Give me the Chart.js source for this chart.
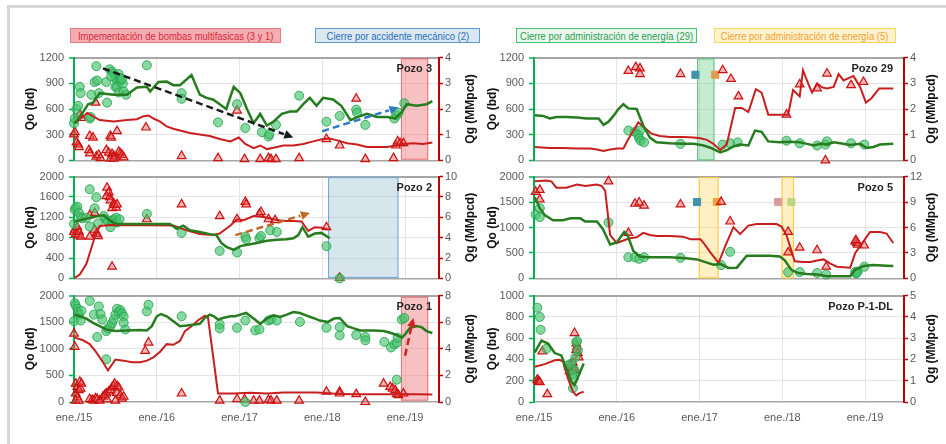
<!DOCTYPE html>
<html>
<head>
<meta charset="utf-8">
<script src="https://cdn.jsdelivr.net/npm/chart.js@4.4.1/dist/chart.umd.min.js"></script>
<style>
  html, body { margin: 0; padding: 0; background: #fff; }
  body { width: 946px; height: 444px; position: relative; overflow: hidden; font-family: "Liberation Sans", Arial, sans-serif; }
  .frame { position: absolute; left: 7px; top: 5px; right: 0; bottom: 0; border-left: 3px solid #d6d6d6; border-top: 3px solid #d6d6d6; }
  .leg { position: absolute; top: 28px; height: 15px; box-sizing: border-box; border: 1px solid;
         display: flex; align-items: center; justify-content: center; white-space: nowrap;
         font-family: "Liberation Sans", Arial, sans-serif; font-size: 11px; }
  .leg span { display: inline-block; transform: scaleX(0.86); transform-origin: center; }
</style>
</head>
<body>
<div class="frame"></div>
<div class="leg" style="left:70px;width:211px;background:#f4aeb2;border-color:#e47c84;color:#d8283a"><span>Impementación de bombas multifasicas (3 y 1)</span></div>
<div class="leg" style="left:315px;width:165px;background:#dbe7f1;border-color:#5b9bd5;color:#2a6fb4"><span>Cierre por accidente mecánico (2)</span></div>
<div class="leg" style="left:516px;width:181px;background:#eaf7ee;border-color:#4cc070;color:#2e9e52"><span>Cierre por administración de energía (29)</span></div>
<div class="leg" style="left:714px;width:182px;background:#fff3cf;border-color:#ffd666;color:#f0a030"><span>Cierre por administración de energía (5)</span></div>

<script>
// year ticks shown on the bottom row
const years = [2015, 2016, 2017, 2018, 2019];

// ---- Pozo 3 ----
const p3QoLine = [[2015.01,433],[2015.11,563],[2015.17,656],[2015.23,674],[2015.31,785],[2015.48,767],[2015.64,767],[2015.76,850],[2015.88,859],[2015.92,804],[2016.02,915],[2016.12,920],[2016.20,878],[2016.28,878],[2016.42,996],[2016.52,767],[2016.60,730],[2016.68,711],[2016.76,656],[2016.84,600],[2016.93,859],[2017.01,785],[2017.09,600],[2017.17,433],[2017.25,544],[2017.33,407],[2017.41,452],[2017.51,544],[2017.61,570],[2017.69,570],[2017.77,656],[2017.85,730],[2017.93,637],[2018.01,730],[2018.13,711],[2018.23,637],[2018.34,470],[2018.46,519],[2018.54,544],[2018.66,507],[2018.78,507],[2018.88,489],[2018.96,563],[2019.02,656],[2019.14,637],[2019.26,656],[2019.33,693]];
const p3QgLine = [[2015.01,1.44],[2015.16,1.85],[2015.31,1.57],[2015.48,1.51],[2015.64,1.57],[2015.76,1.60],[2015.84,1.72],[2015.90,1.75],[2015.96,1.63],[2016.04,1.51],[2016.12,1.32],[2016.20,1.23],[2016.28,1.16],[2016.40,1.07],[2016.52,1.01],[2016.64,0.95],[2016.76,0.83],[2016.89,0.74],[2016.99,0.89],[2017.07,0.64],[2017.17,0.48],[2017.25,0.58],[2017.33,0.44],[2017.41,0.49],[2017.53,0.58],[2017.65,0.58],[2017.77,0.64],[2017.89,0.74],[2018.01,0.83],[2018.09,0.85],[2018.17,0.79],[2018.30,0.67],[2018.42,0.62],[2018.54,0.52],[2018.66,0.52],[2018.78,0.52],[2018.90,0.58],[2018.98,0.64],[2019.10,0.67],[2019.22,0.64],[2019.33,0.70]];
const p3QoPts = [[2015.00,433],[2015.01,489],[2015.03,600],[2015.05,637],[2015.07,859],[2015.08,785],[2015.19,489],[2015.20,507],[2015.21,767],[2015.25,915],[2015.28,933],[2015.27,1100],[2015.30,785],[2015.40,674],[2015.39,915],[2015.43,1063],[2015.46,1037],[2015.48,1007],[2015.50,963],[2015.52,933],[2015.54,1007],[2015.50,859],[2015.52,859],[2015.54,793],[2015.56,926],[2015.59,896],[2015.60,804],[2015.63,767],[2015.45,980],[2015.56,960],[2015.58,950],[2015.88,1111],[2016.30,785],[2016.30,719],[2016.74,444],[2016.97,656],[2017.07,378],[2017.27,330],[2017.35,278],[2017.36,304],[2017.44,415],[2017.72,756],[2018.05,452],[2018.21,519],[2018.41,593],[2018.42,556],[2018.52,415],[2018.87,489],[2018.90,526],[2018.92,556],[2018.99,667]];
const p3QgPts = [[2015.00,1.01],[2015.01,1.10],[2015.03,0.70],[2015.05,0.62],[2015.06,0.52],[2015.07,1.78],[2015.09,1.65],[2015.26,2.25],[2015.18,0.40],[2015.19,0.27],[2015.19,0.95],[2015.23,0.89],[2015.27,0.15],[2015.30,0.21],[2015.32,0.09],[2015.39,0.40],[2015.42,0.30],[2015.44,0.95],[2015.45,0.89],[2015.46,0.25],[2015.48,0.17],[2015.51,0.12],[2015.52,1.14],[2015.54,0.33],[2015.56,0.27],[2015.58,0.21],[2015.60,0.12],[2015.44,0.07],[2015.48,0.07],[2015.87,1.28],[2016.30,0.17],[2016.74,0.09],[2016.97,1.94],[2017.06,0.05],[2017.25,0.05],[2017.35,0.09],[2017.38,0.05],[2017.44,0.05],[2017.72,0.09],[2018.05,0.83],[2018.21,0.58],[2018.41,2.40],[2018.52,0.05],[2018.86,0.09],[2018.89,0.58],[2018.91,0.74],[2018.94,0.67],[2018.98,0.67]];
const p3Boxes = [{from: 2018.95, to: 2019.28, top: 1192, bottom: 8, kind: 'red'}];
const p3Arrows = [{from: [2015.35, 1074], to: [2017.65, 267], color: '#1a1a1a'}, {from: [2018.00, 341], to: [2018.92, 619], color: '#2e7cc4'}];

// ---- Pozo 2 ----
const p2QoLine = [[2015.00,1110],[2015.11,1160],[2015.20,1190],[2015.30,1230],[2015.36,1240],[2015.44,1130],[2015.50,1075],[2015.56,1068],[2016.16,1068],[2016.24,975],[2016.32,1037],[2016.40,944],[2016.52,913],[2016.64,870],[2016.72,851],[2016.78,696],[2016.84,621],[2016.93,559],[2017.01,634],[2017.11,665],[2017.21,696],[2017.33,739],[2017.45,758],[2017.57,770],[2017.65,789],[2017.71,851],[2017.76,1006],[2017.83,820],[2017.91,882],[2017.99,894],[2018.09,789]];
const p2QgLine = [[2015.00,0.00],[2015.07,0.37],[2015.15,1.43],[2015.21,2.99],[2015.25,4.04],[2015.31,5.15],[2015.44,5.25],[2016.20,5.19],[2016.36,4.72],[2016.52,4.35],[2016.68,4.26],[2016.76,4.41],[2016.89,5.19],[2016.97,5.81],[2017.05,5.72],[2017.17,6.12],[2017.29,6.03],[2017.41,5.81],[2017.53,5.65],[2017.65,5.65],[2017.75,5.59],[2017.83,4.66],[2017.91,5.03],[2017.99,4.97],[2018.07,4.81]];
const p2QoPts = [[2015.00,1068],[2015.01,1348],[2015.02,1391],[2015.04,1410],[2015.06,1286],[2015.08,1205],[2015.10,1180],[2015.15,1192],[2015.19,1019],[2015.19,1751],[2015.25,1379],[2015.27,1596],[2015.29,1081],[2015.36,1224],[2015.39,1161],[2015.41,1118],[2015.44,1006],[2015.46,1130],[2015.48,1161],[2015.51,1192],[2015.52,1099],[2015.55,1161],[2015.88,1267],[2016.30,894],[2016.76,540],[2016.97,509],[2017.07,820],[2017.08,770],[2017.24,789],[2017.26,832],[2017.37,944],[2017.45,913],[2018.05,634],[2018.21,0]];
const p2QgPts = [[2015.00,4.57],[2015.01,4.78],[2015.02,4.35],[2015.04,5.03],[2015.05,4.22],[2015.06,4.57],[2015.08,4.10],[2015.19,4.10],[2015.19,6.21],[2015.25,6.43],[2015.27,4.41],[2015.28,4.35],[2015.29,4.16],[2015.25,4.78],[2015.40,8.91],[2015.42,8.45],[2015.39,8.08],[2015.43,7.98],[2015.44,7.67],[2015.46,6.90],[2015.48,7.36],[2015.49,7.21],[2015.51,6.96],[2015.52,7.27],[2015.46,1.15],[2015.88,5.81],[2016.30,7.27],[2016.76,6.12],[2016.97,5.81],[2017.07,7.52],[2017.08,7.27],[2017.24,6.34],[2017.26,6.52],[2017.35,5.81],[2017.43,5.72],[2018.05,5.03],[2018.21,0.06]];
const p2Boxes = [{from: 2018.07, to: 2018.92, top: 1990, bottom: 10, kind: 'blue'}];
const p2Arrows = [{from: [2016.95, 851], to: [2017.85, 1286], color: '#c0682a'}];

// ---- Pozo 1 ----
const p1QoLine = [[2015.01,1642],[2015.07,1611],[2015.15,1568],[2015.23,1488],[2015.31,1426],[2015.39,1364],[2015.50,1333],[2015.64,1346],[2015.80,1352],[2015.88,1346],[2015.94,1426],[2016.00,1611],[2016.05,1654],[2016.12,1611],[2016.20,1519],[2016.28,1426],[2016.36,1438],[2016.46,1457],[2016.52,1469],[2016.58,1580],[2016.64,1642],[2016.69,1611],[2016.74,1549],[2016.80,1580],[2016.89,1611],[2016.95,1611],[2017.01,1642],[2017.08,1673],[2017.17,1568],[2017.25,1469],[2017.33,1568],[2017.41,1630],[2017.49,1599],[2017.57,1642],[2017.65,1691],[2017.73,1673],[2017.81,1623],[2017.89,1580],[2017.97,1531],[2018.07,1506],[2018.14,1568],[2018.21,1580],[2018.30,1426],[2018.38,1383],[2018.46,1346],[2018.62,1346],[2018.74,1333],[2018.82,1302],[2018.90,1259],[2018.96,1210],[2019.00,1272],[2019.06,1395],[2019.14,1426],[2019.20,1407],[2019.26,1333],[2019.33,1296]];
const p1QgLine = [[2015.01,4.84],[2015.11,4.64],[2015.19,4.35],[2015.27,3.73],[2015.35,2.99],[2015.41,2.37],[2015.50,3.19],[2015.60,3.11],[2015.70,2.99],[2015.80,2.99],[2015.88,3.11],[2015.96,3.36],[2016.04,3.78],[2016.12,4.35],[2016.20,4.30],[2016.28,4.59],[2016.34,5.33],[2016.42,5.70],[2016.50,6.15],[2016.58,6.49],[2016.62,6.32],[2016.74,0.64],[2016.93,0.64],[2017.13,0.69],[2017.33,0.64],[2017.53,0.72],[2017.73,0.72],[2017.93,0.72],[2018.13,0.64],[2018.34,0.59],[2018.74,0.59],[2019.14,0.59],[2019.33,0.57]];
const p1QoPts = [[2015.00,1519],[2015.01,1858],[2015.02,1815],[2015.04,1753],[2015.05,1691],[2015.06,1642],[2015.09,1716],[2015.08,1531],[2015.19,1901],[2015.24,1642],[2015.28,1222],[2015.30,1796],[2015.32,1654],[2015.34,1549],[2015.39,802],[2015.39,1333],[2015.41,1383],[2015.44,1426],[2015.46,1482],[2015.48,1549],[2015.50,1642],[2015.52,1753],[2015.54,1691],[2015.56,1728],[2015.58,1667],[2015.60,1605],[2015.60,1488],[2015.62,1364],[2015.88,1704],[2015.90,1827],[2016.30,1611],[2016.76,1457],[2016.76,1383],[2016.97,1395],[2017.07,1531],[2017.19,1346],[2017.24,1364],[2017.35,1531],[2017.38,1549],[2017.45,1531],[2017.73,1506],[2018.05,1395],[2018.21,1407],[2018.21,1253],[2018.41,1259],[2018.52,1222],[2018.52,1161],[2018.75,1130],[2018.83,1025],[2018.87,1086],[2018.90,1111],[2018.91,1210],[2018.90,420],[2018.96,1549],[2018.99,1580],[2017.07,0]];
const p1QgPts = [[2015.00,5.14],[2015.01,4.15],[2015.02,1.38],[2015.02,0.64],[2015.04,0.35],[2015.04,1.14],[2015.06,0.89],[2015.07,1.51],[2015.08,1.01],[2015.09,1.38],[2015.02,0.10],[2015.06,0.10],[2015.19,0.22],[2015.22,0.15],[2015.24,0.10],[2015.26,0.27],[2015.28,0.22],[2015.31,0.10],[2015.35,0.40],[2015.37,0.52],[2015.39,0.64],[2015.40,0.20],[2015.42,0.77],[2015.44,0.89],[2015.46,1.09],[2015.48,1.19],[2015.49,1.38],[2015.52,1.19],[2015.54,1.09],[2015.52,0.69],[2015.56,0.52],[2015.58,0.25],[2015.60,0.40],[2015.50,0.10],[2015.86,3.85],[2015.90,4.47],[2016.30,0.64],[2016.76,0.10],[2016.97,0.22],[2017.06,0.20],[2017.17,0.10],[2017.24,0.10],[2017.35,0.15],[2017.38,0.10],[2017.45,0.10],[2017.72,0.10],[2018.05,0.77],[2018.21,0.77],[2018.21,0.64],[2018.41,0.59],[2018.52,0.00],[2018.74,1.38],[2018.82,1.14],[2018.85,1.01],[2018.88,0.89],[2018.90,0.59],[2018.92,0.52],[2018.98,0.64]];
const p1Boxes = [{from: 2018.95, to: 2019.28, top: 1980, bottom: 25, kind: 'red'}];
const p1Arrows = [{from: [2019.00, 870], to: [2019.10, 1580], color: '#d42020'}];

// ---- Pozo 29 ----
const p29QoLine = [[2015.01,526],[2015.11,519],[2015.19,489],[2015.27,507],[2015.39,507],[2015.52,500],[2015.64,489],[2015.78,489],[2015.84,415],[2015.90,452],[2015.96,519],[2016.02,600],[2016.08,656],[2016.14,607],[2016.24,600],[2016.32,407],[2016.40,267],[2016.48,211],[2016.64,200],[2016.80,193],[2016.93,193],[2017.05,174],[2017.13,148],[2017.25,93],[2017.33,119],[2017.41,163],[2017.49,185],[2017.59,174],[2017.67,348],[2017.75,333],[2017.83,222],[2017.97,211],[2018.09,219],[2018.21,211],[2018.30,193],[2018.38,174],[2018.46,193],[2018.54,185],[2018.62,211],[2018.70,200],[2018.82,181],[2018.94,193],[2019.02,144],[2019.10,156],[2019.18,185],[2019.34,193]];
const p29QgLine = [[2015.01,0.52],[2015.19,0.48],[2015.35,0.48],[2015.52,0.46],[2015.68,0.46],[2015.76,0.42],[2015.84,0.37],[2015.92,0.42],[2016.00,0.46],[2016.08,0.46],[2016.14,0.83],[2016.20,1.14],[2016.26,1.48],[2016.34,1.26],[2016.42,1.04],[2016.52,0.95],[2016.64,0.91],[2016.80,0.91],[2016.93,0.89],[2017.01,0.86],[2017.09,0.80],[2017.17,0.64],[2017.25,0.40],[2017.33,0.64],[2017.43,2.04],[2017.51,2.04],[2017.59,1.88],[2017.68,2.77],[2017.75,2.64],[2017.83,1.78],[2017.97,1.78],[2018.07,1.78],[2018.13,2.74],[2018.21,2.49],[2018.25,3.51],[2018.32,2.93],[2018.36,2.64],[2018.42,2.99],[2018.48,2.84],[2018.54,2.80],[2018.62,2.86],[2018.68,3.36],[2018.74,3.11],[2018.82,3.23],[2018.86,3.28],[2018.94,2.86],[2019.01,2.25],[2019.08,2.43],[2019.17,2.80],[2019.34,2.80]];
const p29QoPts = [[2016.14,348],[2016.22,333],[2016.28,348],[2016.26,296],[2016.27,259],[2016.29,230],[2016.33,211],[2016.77,193],[2017.28,185],[2017.37,200],[2017.46,211],[2018.05,230],[2018.21,200],[2018.42,174],[2018.52,185],[2018.54,222],[2018.83,200],[2018.99,185]];
const p29QgPts = [[2016.14,3.48],[2016.23,3.63],[2016.28,3.58],[2016.28,3.36],[2016.77,3.36],[2017.28,3.51],[2017.38,3.17],[2017.47,2.49],[2018.05,1.78],[2018.21,2.96],[2018.42,2.80],[2018.52,0.00],[2018.54,3.38],[2018.83,2.93],[2018.98,3.05]];
const p29Marks = [[2016.95,1000],[2017.19,1000]];
const p29MarkColors = ['#3f93ad', '#e39a4e'];
const p29Boxes = [{from: 2016.97, to: 2017.18, top: 1190, bottom: 0, kind: 'green'}];

// ---- Pozo 5 ----
const p5QoLine = [[2015.01,1596],[2015.07,1379],[2015.13,1242],[2015.23,1143],[2015.35,1143],[2015.44,1180],[2015.56,1180],[2015.62,1118],[2015.76,1118],[2015.83,975],[2015.92,665],[2016.00,708],[2016.09,913],[2016.13,851],[2016.20,540],[2016.28,429],[2016.36,416],[2016.64,416],[2016.84,398],[2016.97,373],[2017.07,320],[2017.17,270],[2017.25,285],[2017.35,205],[2017.45,211],[2017.57,447],[2017.69,447],[2017.85,447],[2017.97,429],[2018.03,354],[2018.11,168],[2018.19,106],[2018.30,87],[2018.42,75],[2018.54,43],[2018.70,43],[2018.82,43],[2018.88,168],[2018.98,242],[2019.10,261],[2019.26,248],[2019.34,242]];
const p5QgLine = [[2015.01,11.44],[2015.15,11.55],[2015.21,11.44],[2015.27,10.70],[2015.39,10.70],[2015.52,11.07],[2015.62,10.88],[2015.76,11.07],[2015.82,10.88],[2015.86,10.32],[2015.92,5.11],[2016.00,4.17],[2016.08,4.47],[2016.16,4.73],[2016.24,4.85],[2016.32,5.37],[2016.40,5.11],[2016.48,4.99],[2016.64,4.99],[2016.80,4.92],[2016.89,4.62],[2017.01,4.62],[2017.05,4.17],[2017.13,3.06],[2017.23,1.83],[2017.31,3.80],[2017.41,6.04],[2017.49,5.22],[2017.59,6.22],[2017.69,6.41],[2017.93,6.41],[2017.99,6.11],[2018.05,5.11],[2018.15,2.01],[2018.25,1.94],[2018.34,1.94],[2018.42,2.12],[2018.50,2.24],[2018.58,1.75],[2018.66,1.38],[2018.82,1.27],[2018.88,2.98],[2018.98,4.36],[2019.06,5.48],[2019.18,5.48],[2019.26,5.29],[2019.34,4.17]];
const p5QoPts = [[2015.02,1255],[2015.07,1205],[2015.07,1379],[2015.90,1099],[2016.14,416],[2016.22,416],[2016.27,385],[2016.33,416],[2016.77,404],[2017.26,261],[2017.37,522],[2018.07,124],[2018.21,124],[2018.42,106],[2018.53,75],[2018.88,124],[2018.91,137],[2018.99,230],[2018.89,100],[2018.90,110]];
const p5QgPts = [[2015.02,10.21],[2015.07,10.44],[2015.07,9.32],[2015.90,11.44],[2016.14,5.37],[2016.22,8.80],[2016.27,8.94],[2016.33,8.57],[2016.77,8.72],[2017.26,9.02],[2017.37,6.71],[2018.07,5.48],[2018.07,3.06],[2018.21,3.62],[2018.42,3.32],[2018.53,1.38],[2018.88,4.36],[2018.90,4.17],[2018.91,3.99],[2018.99,3.88],[2018.89,4.50]];
const p5Marks = [[2016.97,1500],[2017.21,1500],[2017.95,1500],[2018.11,1500]];
const p5MarkColors = ['#3f93ad', '#f0a43a', '#d99a9a', '#c2d486'];
const p5Boxes = [{from: 2016.99, to: 2017.23, top: 1990, bottom: 0, kind: 'yellow'}, {from: 2017.99, to: 2018.14, top: 1990, bottom: 0, kind: 'yellow'}];

// ---- Pozo P-1-DL ----
const p1dlQoLine = [[2015.01,466],[2015.09,577],[2015.17,550],[2015.25,460],[2015.33,438],[2015.39,315],[2015.45,191],[2015.49,160],[2015.55,268],[2015.60,361]];
const p1dlQgLine = [[2015.01,1.66],[2015.13,1.78],[2015.25,1.96],[2015.31,1.98],[2015.35,1.90],[2015.41,1.11],[2015.47,0.49],[2015.51,0.31],[2015.55,0.42],[2015.60,0.48]];
const p1dlQoPts = [[2015.04,886],[2015.07,799],[2015.08,679],[2015.15,500],[2015.51,562],[2015.53,484],[2015.52,574],[2015.49,299],[2015.48,222],[2015.47,130],[2015.45,361],[2015.41,345],[2015.50,420],[2015.46,260]];
const p1dlQgPts = [[2015.04,1.05],[2015.05,0.99],[2015.06,0.95],[2015.07,0.93],[2015.10,2.38],[2015.16,0.37],[2015.49,3.24],[2015.51,2.75],[2015.52,2.60],[2015.51,2.45],[2015.53,2.30],[2015.54,2.10],[2015.42,1.65],[2015.44,1.75],[2015.46,1.60],[2015.48,1.50],[2015.43,1.45],[2015.45,1.40],[2015.47,1.85],[2015.49,1.55]];

const BOX_STYLE = {
  red:    {fill: 'rgba(240,120,125,0.45)', line: 'rgba(225,90,95,0.8)'},
  blue:   {fill: 'rgba(160,196,210,0.42)', line: '#6aa6da'},
  green:  {fill: 'rgba(110,205,140,0.40)', line: '#5fc27f'},
  yellow: {fill: 'rgba(255,214,110,0.40)', line: '#ffc83a'}
};

const panels = [
  {side: 'L', row: 0, name: 'Pozo 3', qoMax: 1200, qoStep: 300, qgMax: 4, qgStep: 1, qoLine: p3QoLine, qgLine: p3QgLine, qoPts: p3QoPts, qgPts: p3QgPts, boxes: p3Boxes, arrows: p3Arrows},
  {side: 'L', row: 1, name: 'Pozo 2', qoMax: 2000, qoStep: 400, qgMax: 10, qgStep: 2, qoLine: p2QoLine, qgLine: p2QgLine, qoPts: p2QoPts, qgPts: p2QgPts, boxes: p2Boxes, arrows: p2Arrows},
  {side: 'L', row: 2, name: 'Pozo 1', qoMax: 2000, qoStep: 500, qgMax: 8, qgStep: 2, qoLine: p1QoLine, qgLine: p1QgLine, qoPts: p1QoPts, qgPts: p1QgPts, boxes: p1Boxes, arrows: p1Arrows},
  {side: 'R', row: 0, name: 'Pozo 29', qoMax: 1200, qoStep: 300, qgMax: 4, qgStep: 1, qoLine: p29QoLine, qgLine: p29QgLine, qoPts: p29QoPts, qgPts: p29QgPts, boxes: p29Boxes, marks: p29Marks, markColors: p29MarkColors},
  {side: 'R', row: 1, name: 'Pozo 5', qoMax: 2000, qoStep: 500, qgMax: 12, qgStep: 3, qoLine: p5QoLine, qgLine: p5QgLine, qoPts: p5QoPts, qgPts: p5QgPts, boxes: p5Boxes, marks: p5Marks, markColors: p5MarkColors},
  {side: 'R', row: 2, name: 'Pozo P-1-DL', qoMax: 1000, qoStep: 200, qgMax: 5, qgStep: 1, qoLine: p1dlQoLine, qgLine: p1dlQgLine, qoPts: p1dlQoPts, qgPts: p1dlQgPts}
];

const ROWS = [{top: 56, bottom: 164}, {top: 175, bottom: 282}, {top: 294, bottom: 402}];
const SIDES = {
  L: {left: 0, width: 480, wl: 74, wr: 41, xMax: 2019.41, tl: 43, tr: 32, lx: 7},
  R: {left: 470, width: 476, wl: 64, wr: 42, xMax: 2019.47, tl: 41, tr: 28, lx: 11}
};

Chart.defaults.font.family = '"Liberation Sans", Arial, sans-serif';
Chart.defaults.font.size = 11;
Chart.defaults.color = '#595959';

//Draws shaded periods, arrows, axis titles and the well name
function decor(p, s) {
  return {
    id: 'decor',
    beforeDatasetsDraw(chart) {
      const {ctx, scales: {x, y}} = chart;
      (p.boxes || []).forEach(b => {
        const st = BOX_STYLE[b.kind];
        const l = x.getPixelForValue(b.from), r = x.getPixelForValue(b.to);
        const t = y.getPixelForValue(b.top), bt = y.getPixelForValue(b.bottom);
        ctx.save();
        ctx.fillStyle = st.fill;
        ctx.fillRect(l, t, r - l, bt - t);
        ctx.strokeStyle = st.line;
        ctx.lineWidth = 1;
        ctx.strokeRect(l + 0.5, t + 0.5, r - l - 1, bt - t - 1);
        ctx.restore();
      });
    },
    afterDatasetsDraw(chart) {
      const {ctx, scales: {x, y}} = chart;
      (p.arrows || []).forEach(a => {
        const x0 = x.getPixelForValue(a.from[0]), y0 = y.getPixelForValue(a.from[1]);
        const x1 = x.getPixelForValue(a.to[0]), y1 = y.getPixelForValue(a.to[1]);
        const ang = Math.atan2(y1 - y0, x1 - x0), head = 10;
        ctx.save();
        ctx.strokeStyle = a.color;
        ctx.fillStyle = a.color;
        ctx.lineWidth = 2.5;
        ctx.setLineDash([7, 4]);
        ctx.beginPath();
        ctx.moveTo(x0, y0);
        ctx.lineTo(x1 - head * Math.cos(ang), y1 - head * Math.sin(ang));
        ctx.stroke();
        ctx.setLineDash([]);
        ctx.beginPath();
        ctx.moveTo(x1, y1);
        ctx.lineTo(x1 - head * Math.cos(ang - 0.45), y1 - head * Math.sin(ang - 0.45));
        ctx.lineTo(x1 - head * Math.cos(ang + 0.45), y1 - head * Math.sin(ang + 0.45));
        ctx.closePath();
        ctx.fill();
        ctx.restore();
      });
    },
    afterDraw(chart) {
      const {ctx, chartArea: a} = chart;
      const cy = (a.top + a.bottom) / 2;
      ctx.save();
      ctx.fillStyle = '#111';
      ctx.font = 'bold 12px "Liberation Sans", Arial, sans-serif';
      ctx.textAlign = 'center';
      ctx.textBaseline = 'middle';
      [[a.left - s.tl, 'Qo (bd)'], [a.right + s.tr, 'Qg (MMpcd)']].forEach(([tx, t]) => {
        ctx.save();
        ctx.translate(tx, cy);
        ctx.rotate(-Math.PI / 2);
        ctx.fillText(t, 0, 0);
        ctx.restore();
      });
      ctx.font = 'bold 11px "Liberation Sans", Arial, sans-serif';
      ctx.fillStyle = '#262626';
      ctx.textAlign = 'right';
      ctx.fillText(p.name, a.right - s.lx, a.top + 11);
      ctx.restore();
    }
  };
}

panels.forEach(p => {
  const s = SIDES[p.side], r = ROWS[p.row];
  const last = p.row === 2;
  const hx = last ? 30 : 8;
  const h = r.bottom - r.top + 10 + hx;
  const cv = document.createElement('canvas');
  cv.width = s.width;
  cv.height = h;
  cv.style.cssText = `position:absolute;left:${s.left}px;top:${r.top - 10}px;width:${s.width}px;height:${h}px`;
  document.body.appendChild(cv);

  const datasets = [
    {data: p.qoLine, showLine: true, borderColor: '#267c1f', borderWidth: 2.5, pointRadius: 0, yAxisID: 'y', order: 0},
    {data: p.qgLine, showLine: true, borderColor: '#c81e1e', borderWidth: 2, pointRadius: 0, yAxisID: 'y1', order: 0},
    {data: p.qoPts, pointStyle: 'circle', pointRadius: 4.5, backgroundColor: 'rgba(70,195,110,0.65)', borderColor: 'rgba(35,165,75,0.85)', borderWidth: 1, yAxisID: 'y', order: 1, clip: false},
    {data: p.qgPts, pointStyle: 'triangle', pointRadius: 5, backgroundColor: 'rgba(235,90,90,0.45)', borderColor: '#cc1010', borderWidth: 1.2, yAxisID: 'y1', order: 1, clip: false}
  ];
  if (p.marks) {
    datasets.push({data: p.marks, pointStyle: 'rect', pointRadius: 5, backgroundColor: p.markColors, borderColor: p.markColors, yAxisID: 'y', order: 1});
  }

  new Chart(cv, {
    type: 'scatter',
    data: {datasets},
    options: {
      responsive: false,
      animation: false,
      devicePixelRatio: 1,
      layout: {padding: {left: 0, right: 0, top: 10, bottom: 0}},
      plugins: {legend: {display: false}, tooltip: {enabled: false}},
      scales: {
        x: {
          type: 'linear', min: 2015, max: s.xMax,
          afterBuildTicks: sc => { sc.ticks = years.map(v => ({value: v})); },
          afterFit: sc => { sc.height = hx; },
          ticks: {display: last, padding: 9, maxRotation: 0, autoSkip: false, callback: v => 'ene./' + String(v).slice(2)},
          grid: {color: c => (c.tick && c.tick.value === 2015) ? 'rgba(0,0,0,0)' : '#e4e4e4', drawTicks: false},
          border: {color: '#a6a6a6', width: 1.5}
        },
        y: {
          position: 'left', min: 0, max: p.qoMax,
          afterFit: sc => { sc.width = s.wl; },
          ticks: {stepSize: p.qoStep, padding: 5, callback: v => String(v)},
          grid: {
            color: c => c.tick.value === p.qoMax ? '#a6a6a6' : (c.tick.value === 0 ? 'rgba(0,0,0,0)' : '#e4e4e4'),
            lineWidth: c => c.tick.value === p.qoMax ? 2 : 1,
            tickColor: '#00b050', tickLength: 5, tickWidth: 1.5
          },
          border: {color: '#00b050', width: 2}
        },
        y1: {
          position: 'right', min: 0, max: p.qgMax,
          afterFit: sc => { sc.width = s.wr; },
          ticks: {stepSize: p.qgStep, padding: 2, callback: v => String(v)},
          grid: {drawOnChartArea: false, tickColor: '#c00000', tickLength: 4, tickWidth: 1.5},
          border: {color: '#c00000', width: 2}
        }
      }
    },
    plugins: [decor(p, s)]
  });
});
</script>
</body>
</html>
